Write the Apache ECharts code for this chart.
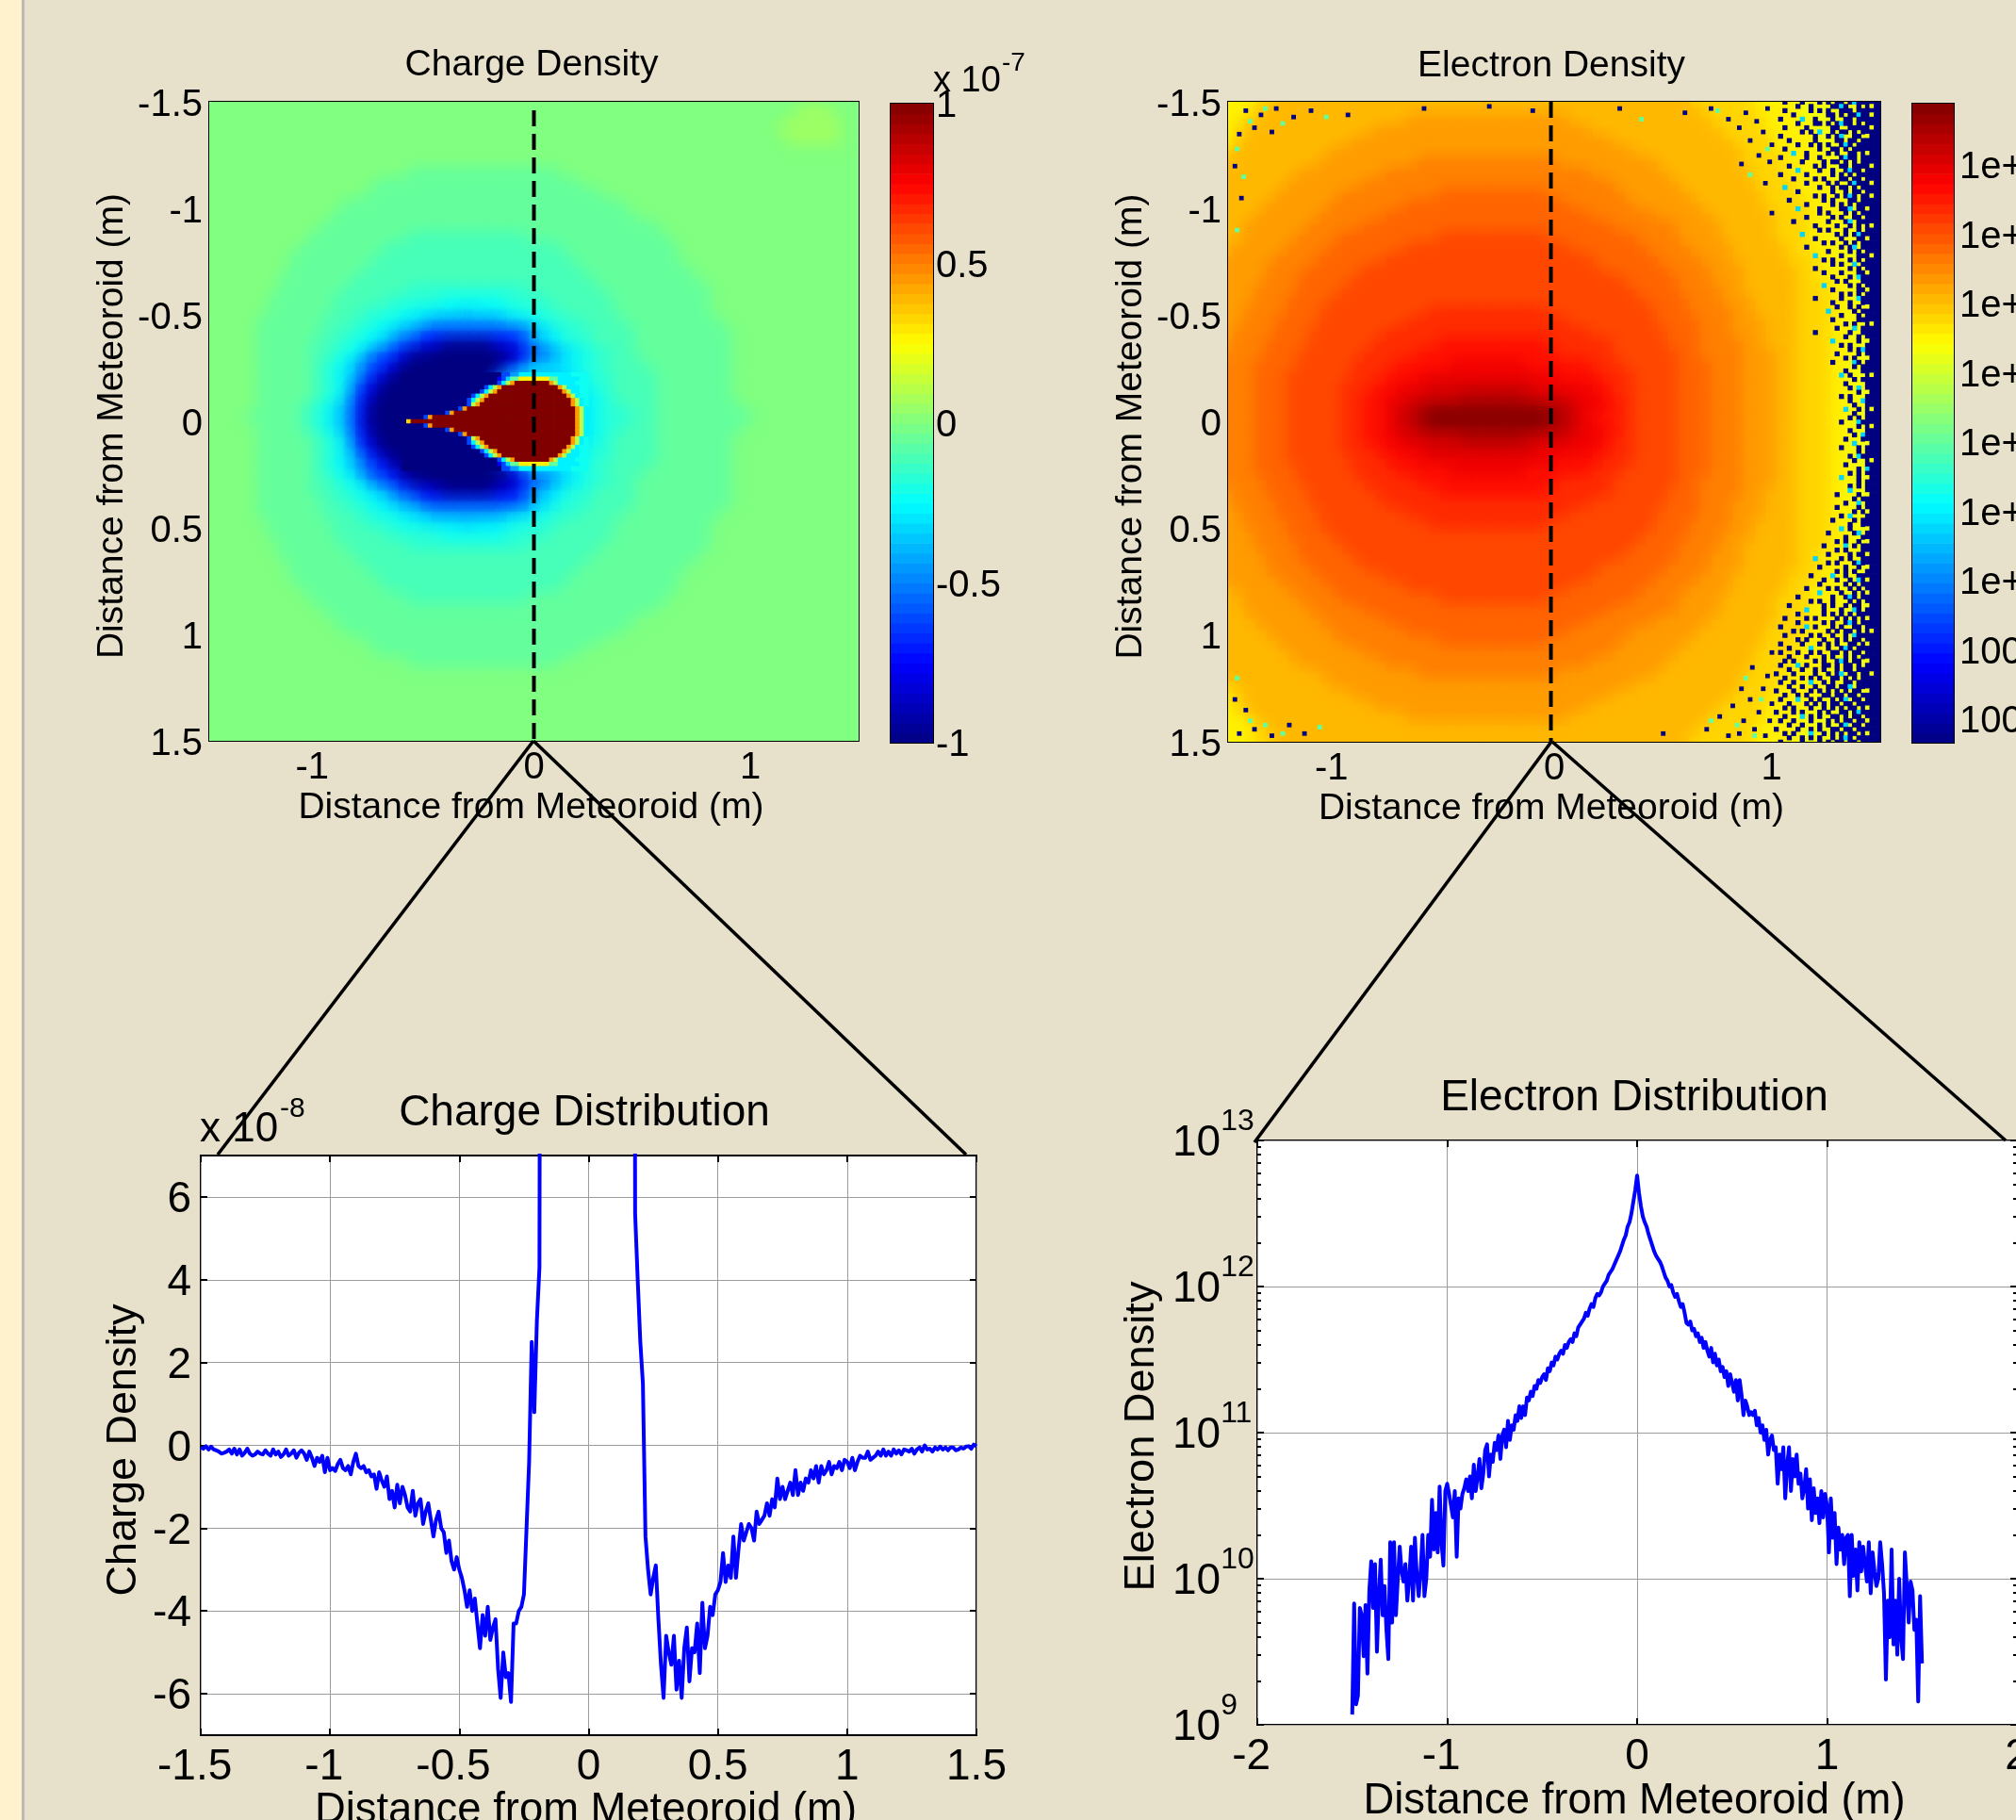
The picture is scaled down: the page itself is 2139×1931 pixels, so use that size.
<!DOCTYPE html>
<html>
<head>
<meta charset="utf-8">
<style>html,body{margin:0;padding:0;background:#E7E1CB}#c{width:2139px;height:1931px}</style>
<script src="https://cdn.jsdelivr.net/npm/echarts@6/dist/echarts.min.js"></script>
</head>
<body>
<div id="c"></div>
<script>
// Levels in 37 colour steps; each row token = level char + run length ('.' = nothing).
const LEVELS = '0123456789abcdefghijklmnopqrstuvwxyzA';

// Charge Density map, y = -1.5 ... 1.5, 61 cells per row (x = -1.5 ... 1.5)
const chargeRows = [
"i61","i55 j3 i3","i54 j5 i2","i53 j6 i2","i54 j5 i2","i61","i61",
"i19 h14 i28","i16 h19 i26","i15 h22 i24","i13 h26 i22","i12 h28 i21","i11 h31 i19",
"i10 h9 g11 h13 i18","i9 h8 g16 h11 i17","i8 h8 g18 h10 i17","i8 h7 g20 h10 i16","i7 h7 g22 h10 i15",
"i7 h6 g6 f11 g7 h10 i14","i6 h6 g5 f5 e6 f4 g6 h9 i14","i6 h6 g3 f3 e2 d4 c1 d3 e2 f3 g5 h9 i14",
"i5 h6 g3 f2 e2 d1 c2 a7 c2 d1 e1 f3 g4 h9 i13","i5 h6 g2 f2 e1 d1 c1 a2 710 a1 c1 d1 f3 g4 h9 i12",
"i5 h5 g2 f2 e1 d1 c1 a1 72 42 15 42 71 a1 c1 d1 e1 f2 g4 h9 i12","i5 h5 g2 f1 e1 d1 a1 72 41 12 06 12 41 72 a1 c1 d1 e1 f2 g2 h9 i12",
"i5 h5 g1 f1 e1 d1 a1 72 41 11 09 41 71 c3 d1 e1 f2 g4 h8 i12",
"i5 h5 g1 f1 e1 c1 a1 71 41 11 09 71 c6 d1 e1 f2 g4 h7 i12",
"i5 h5 g1 f1 e1 c1 71 41 11 09 61 a1 c7 e1 f2 g4 h7 i12",
"i5 h5 g1 f1 e1 b1 61 31 09 81 c9 d1 e1 f1 g4 h7 i12",
"i5 h4 g1 f1 e1 c1 a1 51 11 07 51 c11 d1 e1 f2 g3 h8 i11",
"i4 h5 g1 f1 e1 c1 a1 51 11 03 08 c8 d1 e1 f3 g2 h9 i10",
"i5 h4 g1 f1 e1 c1 a1 51 11 07 51 c11 d1 e1 f2 g3 h8 i11",
"i5 h5 g1 f1 e1 b1 61 31 09 81 c9 d1 e1 f1 g4 h7 i12",
"i5 h5 g1 f1 e1 c1 71 41 11 09 61 a1 c7 e1 f2 g4 h7 i12",
"i5 h5 g1 f1 e1 c1 a1 71 41 11 09 71 c6 d1 e1 f2 g4 h7 i12",
"i5 h5 g1 f1 e1 d1 a1 72 41 11 09 41 71 c3 d1 e1 f2 g4 h8 i12",
"i5 h5 g2 f1 e1 d1 a1 72 41 12 06 12 41 72 a1 c1 d1 e1 f2 g2 h9 i12","i5 h5 g2 f2 e1 d1 c1 a1 72 42 15 42 71 a1 c1 d1 e1 f2 g4 h9 i12",
"i5 h6 g2 f2 e1 d1 c1 a2 710 a1 c1 d1 f3 g4 h9 i12","i5 h6 g3 f2 e2 d1 c2 a7 c2 d1 e1 f3 g4 h9 i13",
"i6 h6 g3 f3 e2 d4 c1 d3 e2 f3 g5 h9 i14","i6 h6 g5 f5 e6 f4 g6 h9 i14","i7 h6 g6 f11 g7 h10 i14",
"i7 h7 g22 h10 i15","i8 h7 g20 h10 i16","i8 h8 g18 h10 i17","i9 h8 g16 h11 i17","i10 h9 g11 h13 i18",
"i11 h31 i19","i12 h28 i21","i13 h26 i22","i15 h22 i24","i16 h19 i26","i19 h14 i28",
"i61","i61","i61","i61","i61","i61","i61"
];

// Positive teardrop of the charge map, finer cells: y = -0.22 ... 0.22, x = -0.6 ... 0.24, step 0.02
const chargeHeadRows = [
"023 72 a2 d12 e4","022 41 71 c1 h2 n7 h2 d5 e2","022 71 d1 k1 q1 A8 q1 k1 d4 e3","019 71 d1 k1 q1 A13 q1 k1 d3 e2",
"018 71 d1 k1 q1 A15 q1 k1 d2 e2","016 71 d1 k1 q1 A18 q1 k1 d1 e2","015 71 d1 k1 q1 A20 q1 k1 d1 e1","015 71 k1 q1 A21 q1 k1 d1 e1",
"013 71 q1 A25 q1 k1 d1","010 71 q1 A28 q1 k1 d1","05 71 q1 A33 q1 k1 d1","01 o1 A38 q1 k1 d1",
"05 71 q1 A33 q1 k1 d1","010 71 q1 A28 q1 k1 d1","013 71 q1 A25 q1 k1 d1","015 71 k1 q1 A21 q1 k1 d1 e1",
"015 71 d1 k1 q1 A20 q1 k1 d1 e1","016 71 d1 k1 q1 A18 q1 k1 d1 e2","018 71 d1 k1 q1 A15 q1 k1 d2 e2","019 71 d1 k1 q1 A13 q1 k1 d3 e2",
"022 71 d1 k1 q1 A8 q1 k1 d4 e3","022 41 71 c1 h2 n7 h2 d5 e2","023 72 a2 d12 e4"
];

// Electron Density map, same layout as the charge map
const electronRows = [
"n3 o2 p38 o6 n4 m8","n3 o1 p40 o5 n4 m8","n2 o1 p14 q15 p13 o5 n4 m7","n1 o1 p12 q20 p12 o4 n4 m7",
"n1 o1 p10 q24 p11 o4 n4 m6","o1 p9 q28 p10 o3 n4 m6","p9 q9 r13 q9 p8 o4 n4 m5","p7 q8 r19 q7 p8 o3 n4 m5",
"p6 q7 r23 q6 p7 o4 n3 m5","p5 q6 r9 s10 r7 q6 p7 o3 n4 m4","p4 q6 r7 s15 r6 q6 p6 o4 n3 m4","p3 q6 r6 s19 r6 q5 p6 o3 n3 m4",
"p2 q6 r5 s23 r6 q4 p5 o3 n3 m4","p2 q5 r4 s9 t10 s8 r4 q4 p5 o3 n3 m4","p1 q5 r4 s7 t15 s7 r4 q4 p5 o2 n3 m4",
"q5 r4 s6 t19 s6 r4 q3 p5 o3 n2 m4","q4 r4 s5 t22 s6 r4 q3 p5 o2 n3 m3","q4 r3 s5 t25 s5 r3 q3 p5 o2 n3 m3",
"q3 r4 s4 t27 s4 r4 q2 p5 o3 n2 m3","q3 r3 s4 t29 s4 r3 q3 p4 o3 n2 m3","q2 r4 s3 t10 u11 t10 s3 r4 q2 p4 o3 n2 m3",
"q2 r3 s4 t8 u15 t8 s4 r3 q3 p3 o3 n2 m3","q1 r4 s3 t7 u19 t7 s3 r3 q3 p3 o3 n2 m3","q1 r3 s4 t6 u6 v10 u6 t5 s3 r4 q2 p3 o3 n2 m3",
"r4 s3 t6 u5 v13 u5 t6 s2 r4 q3 p2 o3 n2 m3","r3 s4 t5 u4 v5 w7 v6 u3 t5 s3 r3 q3 p2 o3 n2 m3",
"r3 s3 t6 u3 v3 w13 v4 u3 t4 s3 r3 q3 p2 o3 n2 m3","r3 s3 t5 u3 v2 w3 x10 w5 v2 u2 t4 s3 r3 q3 p2 o3 n2 m3",
"r3 s3 t5 u2 v2 w2 x5 y6 x4 w3 v1 u2 t4 s3 r3 q3 p2 o3 n2 m3","r3 s3 t5 u2 v2 w1 x2 y1 z11 y2 x1 w2 v2 u1 t4 s3 r3 q3 p2 o3 n2 m3",
"r3 s3 t5 u2 v2 w1 x1 y1 z1 A11 z1 y1 x1 w1 v2 u2 t4 s3 r3 q3 p2 o3 n2 m3",
"r3 s3 t5 u2 v2 w1 x2 y1 z11 y2 x1 w2 v2 u1 t4 s3 r3 q3 p2 o3 n2 m3","r3 s3 t5 u2 v2 w2 x5 y6 x4 w3 v1 u2 t4 s3 r3 q3 p2 o3 n2 m3",
"r3 s3 t5 u3 v2 w3 x10 w5 v2 u2 t4 s3 r3 q3 p2 o3 n2 m3","r3 s3 t6 u3 v3 w13 v4 u3 t4 s3 r3 q3 p2 o3 n2 m3",
"r3 s4 t5 u4 v5 w7 v6 u3 t5 s3 r3 q3 p2 o3 n2 m3","r4 s3 t6 u5 v13 u5 t6 s2 r4 q3 p2 o3 n2 m3",
"q1 r3 s4 t6 u6 v10 u6 t5 s3 r4 q2 p3 o3 n2 m3","q1 r4 s3 t7 u19 t7 s3 r3 q3 p3 o3 n2 m3","q2 r3 s4 t8 u15 t8 s4 r3 q3 p3 o3 n2 m3",
"q2 r4 s3 t10 u11 t10 s3 r4 q2 p4 o3 n2 m3","q3 r3 s4 t29 s4 r3 q3 p4 o3 n2 m3","q3 r4 s4 t27 s4 r4 q2 p5 o3 n2 m3",
"q4 r3 s5 t25 s5 r3 q3 p5 o2 n3 m3","q4 r4 s5 t22 s6 r4 q3 p5 o2 n3 m3","q5 r4 s6 t19 s6 r4 q3 p5 o3 n2 m4",
"p1 q5 r4 s7 t15 s7 r4 q4 p5 o2 n3 m4","p2 q5 r4 s9 t10 s8 r4 q4 p5 o3 n3 m4","p2 q6 r5 s23 r6 q4 p5 o3 n3 m4",
"p3 q6 r6 s19 r6 q5 p6 o3 n3 m4","p4 q6 r7 s15 r6 q6 p6 o4 n3 m4","p5 q6 r9 s10 r7 q6 p7 o3 n4 m4",
"p6 q7 r23 q6 p7 o4 n3 m5","p7 q8 r19 q7 p8 o3 n4 m5","p9 q9 r13 q9 p8 o4 n4 m5","o1 p9 q28 p10 o3 n4 m6",
"n1 o1 p10 q24 p11 o4 n4 m6","n1 o1 p12 q20 p12 o4 n4 m7","n2 o1 p14 q15 p13 o5 n4 m7","n3 o1 p40 o5 n4 m8","n3 o2 p38 o6 n4 m8"
];

// Noisy right rim of the electron map, one char per cell: x = 1.02 ... 1.5, y = -1.5 ... 1.5, step 0.02
// ('.' = nothing, 0 = dark blue, c = cyan, m = yellow); rows end in solid dark blue from x = 1.44
const electronRimRows = `
..0...0...0.0.00.0c00.0
.....0..0....00c0..0.0m
..0.....0.0.0..000.000
....0.......00.0.00c00m
.0....c..0...0..00.00
.....0...00.0.0c00.0.0
..0....0.....00..00000m
......0.0.c..0.00.0.0
.0.......0..0.0c..00.m
...0.....0....00.00.000
.....0..0.0.0..0c0.00
..0.......0..00.0.0000
....c..0....0.0..00.0m
.0.....0..0....0c00.0
......0....0.00.0.0.00
...0.....0.0...00.000.m
.....c....0..0..0c00.0
.0.....0.....0.0.0.00
....0....0.0...00.00.0
.......0....0.0..0c000m
..c.......0..0.00.0.0
.....0.......0..0.00.0
.........0.0..0.0c0.00m
...0.......0.0...00.0
.......0.....0.0.0.000
.....c....0....00c.00m
..........0.0...0.0.0
.......0.....0.0..00.0
....0.......0...0c.00
.........0....0..0.0.0m
..........0.0...0..0.
......c.......0.0.0c0
.........0.....0...00m
...........0.0..0.0.0
.......0.......0.0c.0
............0....0.0.0
.........c.....0...00.m
...........0.0...0.0.
.............0.0..c.0
.........0.......0.0.0
...........0...0...00m
.............0...0.c0
..............0.0...0.
...........c.....0.0.0
.............0.....00m
...............0.0.0.
.........0.....0...c0
.............0...0..0.
..............0..0.0.m
............c.....0.0
...............0...0.0
.............0.....00.
................0.0..0m
..............0...c.0
.........0.......0..0.
................0..0.0
.............c.....0.m
...............0.0...0
.................0.0c.
..............0....0.0
................0.0..m
.............0....c0.
..................0.0.
................0...0.
...............c.0...0m
..................0.0
................0....0
.................0.c.0
...................0.m
...............0.0...
.................0..c0
..................0...
................c..0.0m
..................0..0
.................0.0..
...............0...c0
...................0.0m
.................0....
..................0.c.
................0...0.
..................c..m
...............0...0.0
...................0..
.................0.c0.
..................0..0m
................0....0
...................0.c
.................0.0..
...............c...0.m
...................0..
.................0.0.0
.................c...0
..............0....0.m
..................0.0.
................0..c.0
..............0....0..
..................0.0m
...............0.c...0
.............0....0.0.
.................0..0.
...............c.0...m
............0.....0c.0
................0...0.
..............0.0..0.m
...........0....c.0.0.
..............0.0...0.
............0....0.00m
.........c.....0.0..0.
............0.0...0c0
..........0.....0..0.m
..............0.0.0..0
........0....c..0..00.
...........0..0..0.c0m
..........0.....0.0.00
.......0....0.0..0.0.0
..........c....0..0.0m
.....0.......0..0c0.0.
........0.0..0...0.0.0
...0.......0.0..0.00.m
.......c...0...0..c0.0
.....0.....0.0.0.0.00.
..0....0.0....0.0.0.0m
.....0.....0.0..0c0.00
.0.....c.0...0.0..00.
....0.0.....0.0.00.0.0m
..0.....0.0..0..0.c00.
.....0.0...0..0.0.00.0
.0....0...0.0.0..00.0m
...0....c...0..0c0.00.
.0...0..0.0..00.0.00.0
...0...0...0.0..0.0.00
..0.0....0.0..0c0.00.m
.0...c.0...00.0.00.0.0
...0..0..0.0..0.00.000
0...0....0..0.0c.00.00m
..0...0.0.0..00.0.0.00
.0..0...c..0.0..00.000
...0..0..0..00.00c.00.
0...0...0.0.0.0.0.00.m
..0..0.0...00.00.00.00
.0...c..0.0..0.0c.00.0
...0...0.0.0.00.00.000
..0.0...0..0.0.0.00.0m
0...0.0...0.0..00.0c00
..0...c.0.0..00.0.00.0
.0..0...0...0.0.00.00m
...0..0...0.0..0c.00.0
0....0..0.0..00.00.000
..0.0...c..0.0.0.00.0m
...0..0.0.0..0.0c0.000
.0....0...0.0.00.00.00
`.trim().split('\n');

// Stray dark-blue and cyan cells seen on the edges of the electron map
const electronBlueSpots = [
[-1.42,-1.46],[-1.35,-1.44],[-1.28,-1.47],[-1.2,-1.43],[-1.12,-1.46],[-1.45,-1.35],[-1.38,-1.38],[-1.3,-1.36],[-.95,-1.44],[-1.47,-1.2],[-1.44,-1.05],[-1.45,1.46],[-1.38,1.44],[-1.3,1.47],[-1.22,1.42],[-1.47,1.3],[-1.42,1.35],[-1.15,1.46],[-.6,-1.47],[-.3,-1.48],[-.1,-1.46],[.3,-1.47],[.6,-1.45],
[.72,-1.47],[.8,-1.42],[.85,-1.38],[.88,-1.45],[.9,-1.32],[.93,-1.41],[.96,-1.36],[.98,-1.47],[1.0,-1.3],[.94,-1.25],[.99,-1.22],[.97,-1.12],[.86,-1.21],[1.0,-.98],
[.5,1.46],[.7,1.44],[.82,1.33],[.85,1.46],[.87,1.4],[.9,1.3],[.92,1.44],[.94,1.36],[.96,1.25],[.97,1.47],[.99,1.4],[1.0,1.32],[.98,1.19],[.86,1.25],[.76,1.38],[.8,1.47],[.91,1.15],[1.0,1.08]
];
const electronCyanSpots = [
[-1.4,-1.41],[-1.33,-1.47],[-1.25,-1.4],[-1.05,-1.43],[-1.46,-1.28],[-1.43,-1.15],[-1.46,-.9],[-1.4,1.4],[-1.33,1.42],[-1.25,1.46],[-1.46,1.2],[-1.08,1.43],[.4,-1.42],[.75,-1.46],[.98,-1.28],[.9,-1.16],[.72,1.4],[.84,1.42],[.92,1.47],[.95,1.3],[.88,1.2]
];

const chargeBarTicks = [-1,-0.5,0,0.5,1];
const electronBarTicks = [4,5,6,7,8,9,10,11,12];
const electronBarLabels = ["100","100","1e+","1e+","1e+","1e+","1e+","1e+","1e+"];
const mapTicksX = [-1,0,1];
const mapTicksY = [-1.5,-1,-0.5,0,0.5,1,1.5];

// Charge Distribution, x = -1.5 ... 1.5 every 0.01, unit 1e-8; 40 = far off the top of the plot
const chargeLine = [
-.05,-.08,-.02,-.1,-.03,-.1,-.12,-.15,-.2,-.18,
-.15,-.1,-.2,-.08,-.22,-.1,-.25,-.18,-.08,-.2,
-.25,-.22,-.15,-.2,-.22,-.12,-.2,-.25,-.1,-.22,
-.15,-.28,-.22,-.1,-.25,-.2,-.12,-.3,-.18,-.12,
-.2,-.35,-.15,-.3,-.5,-.3,-.4,-.25,-.65,-.3,
-.6,-.55,-.62,-.45,-.35,-.55,-.6,-.5,-.7,-.4,
-.2,-.5,-.55,-.5,-.65,-.6,-.75,-.7,-1.05,-.65,
-.85,-1.0,-.75,-1.3,-1.1,-1.5,-.95,-1.4,-1.0,-1.2,
-1.5,-1.6,-1.1,-1.7,-1.4,-1.3,-1.9,-1.6,-1.4,-1.8,
-2.2,-1.8,-1.6,-2.0,-2.1,-2.6,-2.3,-2.8,-3.0,-2.7,
-3.0,-3.2,-3.5,-3.9,-3.5,-4.0,-3.7,-4.3,-4.9,-4.1,
-4.6,-3.9,-4.7,-4.4,-4.2,-5.4,-6.1,-5.0,-5.6,-5.5,
-6.2,-4.3,-4.3,-4.0,-3.9,-3.6,-2.0,-.4,2.5,.8,
3.0,4.3,40,40,40,40,40,40,40,40,
40,40,40,40,40,40,40,40,40,40,
40,40,40,40,40,40,40,40,40,40,
40,40,40,40,40,40,40,40,5.6,4.0,
2.5,1.5,-2.2,-3.0,-3.6,-3.2,-2.9,-4.2,-5.3,-6.1,
-4.6,-5.0,-5.3,-4.6,-5.9,-5.2,-6.1,-4.9,-4.4,-5.7,
-4.9,-5.0,-4.3,-5.5,-3.8,-4.9,-4.6,-3.9,-4.1,-3.6,
-3.5,-3.3,-2.6,-3.3,-2.9,-3.2,-2.2,-3.2,-2.5,-1.9,
-2.3,-2.1,-1.9,-2.0,-2.3,-1.6,-1.9,-1.8,-1.7,-1.4,
-1.7,-1.3,-1.5,-.8,-1.3,-1.0,-1.3,-1.1,-.9,-1.2,
-.6,-1.2,-.9,-1.1,-.8,-.9,-.6,-.8,-.5,-.9,
-.5,-.7,-.6,-.4,-.7,-.5,-.55,-.4,-.6,-.35,
-.4,-.55,-.3,-.6,-.4,-.25,-.3,-.3,-.15,-.35,
-.3,-.25,-.15,-.25,-.1,-.25,-.15,-.25,-.1,-.2,
-.12,-.22,-.1,-.12,-.15,-.08,-.2,-.1,-.05,-.15,
0,-.1,-.08,-.15,-.05,-.1,-.03,-.1,-.05,-.12,
-.05,-.05,-.12,-.1,-.05,-.08,-.03,-.02,-.08,.02,
-.02
];

// Electron Distribution, x = -1.5 ... 1.5 every 0.01, as log10 of the density
const electronLine = [
9.07,9.83,9.14,9.2,9.8,9.75,9.47,9.82,9.35,9.92,
10.12,9.8,10.1,9.5,9.88,10.13,9.75,9.95,9.65,9.45,
10.25,9.7,10.25,9.75,10.0,10.22,10.05,9.98,10.1,9.85,
10.0,10.22,9.85,10.28,10.02,9.88,10.05,10.3,9.88,10.0,
10.3,10.15,10.54,10.2,10.45,10.18,10.63,10.25,10.09,10.6,
10.65,10.58,10.5,10.42,10.6,10.15,10.55,10.48,10.58,10.62,
10.68,10.6,10.7,10.55,10.78,10.6,10.7,10.82,10.62,10.72,
10.88,10.92,10.7,10.85,10.8,10.93,10.88,10.98,10.82,10.98,
11.02,10.9,11.08,10.95,11.05,11.02,11.12,11.08,11.18,11.1,
11.18,11.12,11.24,11.22,11.28,11.25,11.32,11.3,11.36,11.34,
11.38,11.4,11.36,11.44,11.42,11.48,11.46,11.52,11.5,11.54,
11.56,11.54,11.6,11.58,11.62,11.64,11.62,11.68,11.66,11.72,
11.74,11.76,11.78,11.82,11.8,11.85,11.88,11.86,11.92,11.95,
11.94,11.96,12.0,12.02,12.04,12.08,12.1,12.12,12.15,12.18,
12.21,12.24,12.28,12.32,12.35,12.41,12.44,12.5,12.58,12.66,
12.76,
12.64,12.55,12.48,12.44,12.41,12.36,12.32,12.28,12.24,12.21,
12.19,12.17,12.14,12.1,12.06,12.04,12.0,12.01,11.96,11.93,
11.95,11.9,11.86,11.88,11.82,11.75,11.74,11.76,11.7,11.71,
11.66,11.68,11.62,11.65,11.58,11.62,11.56,11.52,11.58,11.48,
11.54,11.46,11.5,11.42,11.45,11.38,11.42,11.32,11.4,11.34,
11.28,11.36,11.22,11.36,11.26,11.12,11.22,11.18,11.12,11.14,
11.12,11.15,11.05,11.1,11.0,11.05,10.95,11.02,10.85,10.95,
10.98,10.88,10.9,10.65,10.85,10.75,10.9,10.55,10.78,10.9,
10.6,10.82,10.7,10.85,10.65,10.72,10.55,10.62,10.75,10.48,
10.68,10.4,10.62,10.45,10.55,10.38,10.6,10.42,10.58,10.5,
10.18,10.55,10.28,10.45,10.1,10.35,10.2,10.3,10.1,10.28,
10.3,9.88,10.3,10.02,10.2,9.92,10.25,10.05,10.22,10.1,
9.98,10.25,9.9,10.18,10.05,9.95,10.0,10.25,10.1,9.9,
9.31,9.85,9.6,10.2,9.55,9.85,9.48,10.0,9.6,9.45,
10.18,9.95,9.7,9.98,9.92,9.65,9.72,9.16,9.88,9.42
];
const decadeMinor = [.301,.477,.602,.699,.778,.845,.903,.954];

const FONT = '"Liberation Sans", Arial, sans-serif';
const JET = ['#000080','#0000ff','#0080ff','#00ffff','#80ff80','#ffff00','#ff8000','#ff0000','#800000'];
const CHARGE_RANGE = [-1, 1];
const ELECTRON_RANGE = [3.66, 12.89];
const RIM_SOLID_FROM = 21;

function decodeMap(rows, range, x0, y0, step) {
  const out = [];
  rows.forEach((row, j) => {
    let i = 0;
    row.split(' ').forEach(tok => {
      const lv = LEVELS.indexOf(tok[0]);
      const n = parseInt(tok.slice(1), 10);
      for (let k = 0; k < n; k++, i++) {
        if (lv >= 0) out.push([x0 + i * step, y0 + j * step, range[0] + lv / 36 * (range[1] - range[0])]);
      }
    });
  });
  return out;
}
function decodeRim(rows, range, x0, y0, step, cols) {
  const out = [];
  rows.forEach((row, j) => {
    for (let i = 0; i < cols; i++) {
      let ch = i < row.length ? row[i] : '0';
      if (ch === '.' && i >= RIM_SOLID_FROM) ch = '0';
      if (ch !== '.') out.push([x0 + i * step, y0 + j * step, range[0] + LEVELS.indexOf(ch) / 36 * (range[1] - range[0])]);
    }
  });
  return out;
}
function barCells(range) {
  const out = [], h = (range[1] - range[0]) / 64;
  for (let i = 0; i < 64; i++) out.push([0.5, range[0] + (i + .5) * h, range[0] + (i + .5) * h]);
  return out;
}
const cell = (w, h) => (p, api) => {
  const c = api.coord([api.value(0), api.value(1)]);
  const s = api.size([w, h]);
  return { type: 'rect', shape: { x: c[0] - s[0] / 2, y: c[1] - s[1] / 2, width: s[0] + .7, height: s[1] + .7 }, style: { fill: api.visual('color') } };
};
// Soft round sprite per cell, so neighbouring map cells melt into each other as they do in the picture's fine grid
const softCell = (w, rScale, alpha) => (p, api) => {
  const c = api.coord([api.value(0), api.value(1)]);
  const s = api.size([w, w]);
  const col = api.visual('color');
  return { type: 'circle', shape: { cx: c[0], cy: c[1], r: s[0] * rScale }, style: {
    fill: new echarts.graphic.RadialGradient(.5, .5, .5, [
      { offset: 0, color: echarts.color.modifyAlpha(col, alpha) },
      { offset: .55, color: echarts.color.modifyAlpha(col, alpha * .6) },
      { offset: 1, color: echarts.color.modifyAlpha(col, 0) }
    ]) } };
};
const baseSeries = (gi, data, render) => ({
  type: 'custom', coordinateSystem: 'cartesian2d', xAxisIndex: gi.x, yAxisIndex: gi.y, data, clip: true, silent: true,
  dimensions: ['x', 'y', 'v'], encode: { x: 0, y: 1 }, renderItem: render, progressive: 0, animation: false
});
const cellSeries = (gi, data, w, h) => baseSeries(gi, data, cell(w, h));

const xAxis = [], yAxis = [];
function axis(list, grid, min, max, pos, o) {
  o = o || {};
  const a = {
    type: 'value', gridIndex: grid, min, max, position: pos, inverse: !!o.inverse, scale: true,
    axisLine: { show: false, onZero: false },
    splitLine: { show: !!o.grid, lineStyle: { color: '#9c9c9c', width: 1 } },
    axisTick: { show: !!o.ticks, inside: true, length: o.len || 7, lineStyle: { color: '#000', width: 2 } },
    axisLabel: { show: !!o.labels, fontFamily: FONT, fontSize: o.size || 40, color: '#000', margin: o.margin == null ? 8 : o.margin, hideOverlap: false, showMinLabel: true, showMaxLabel: true },
    axisPointer: { show: false }
  };
  if (o.ticks) a.axisTick.customValues = o.ticks;
  if (o.labels) a.axisLabel.customValues = o.labels;
  if (o.formatter) a.axisLabel.formatter = o.formatter;
  if (o.rich) a.axisLabel.rich = o.rich;
  if (o.align) a.axisLabel.align = o.align;
  if (o.name) {
    a.name = o.name; a.nameLocation = 'middle'; a.nameGap = o.gap;
    a.nameTextStyle = { fontFamily: FONT, fontSize: o.nameSize || o.size || 40, color: '#000' };
    if (o.namePad) a.nameTextStyle.padding = o.namePad;
  }
  list.push(a);
  return list.length - 1;
}
const negShift = v => (v < 0 ? v + ' ' : String(v));
const lowered = fn => v => '{l|' + (fn ? fn(v) : v) + '}';
const lowRich = (size, pad) => ({ l: { fontFamily: FONT, fontSize: size, color: '#000', padding: [pad, 0, 0, 0] } });
const frame = { show: true, borderColor: '#000', borderWidth: 2, backgroundColor: 'transparent', outerBoundsMode: 'none' };
const grid = [
  { left: 222, top: 108, width: 689, height: 678, ...frame },
  { left: 945, top: 110, width: 45, height: 678, ...frame },
  { left: 1303, top: 108, width: 692, height: 679, ...frame },
  { left: 2029, top: 110, width: 44, height: 678, ...frame },
  { left: 213, top: 1226, width: 823, height: 615, ...frame, backgroundColor: '#fff' },
  { left: 1334, top: 1210, width: 806, height: 620, ...frame, backgroundColor: '#fff' }
];
const XNAME = 'Distance from Meteoroid (m)';

// Charge Density map axes
const x0 = axis(xAxis, 0, -1.5, 1.5, 'bottom', { ticks: mapTicksX, labels: mapTicksX, name: XNAME, gap: 52, nameSize: 39, namePad: [0, 6, 0, 0], margin: 9, formatter: negShift });
axis(xAxis, 0, -1.5, 1.5, 'top', { ticks: mapTicksX });
const y0 = axis(yAxis, 0, -1.5, 1.5, 'left', { inverse: true, ticks: mapTicksY, labels: mapTicksY, name: XNAME, gap: 83, nameSize: 39, namePad: [0, 10, 0, 0], margin: 7, formatter: lowered(), rich: lowRich(40, 7) });
axis(yAxis, 0, -1.5, 1.5, 'right', { inverse: true, ticks: mapTicksY });
// Charge colour bar axes
const x1 = axis(xAxis, 1, 0, 1, 'bottom');
const y1 = axis(yAxis, 1, CHARGE_RANGE[0], CHARGE_RANGE[1], 'right', { ticks: chargeBarTicks, labels: chargeBarTicks, margin: 3, formatter: lowered(), rich: lowRich(40, 6) });
axis(yAxis, 1, CHARGE_RANGE[0], CHARGE_RANGE[1], 'left', { ticks: chargeBarTicks });
// Electron Density map axes
const x2 = axis(xAxis, 2, -1.5, 1.5, 'bottom', { ticks: mapTicksX, labels: mapTicksX, name: XNAME, gap: 52, nameSize: 39, namePad: [0, 6, 0, 0], margin: 9, formatter: negShift });
axis(xAxis, 2, -1.5, 1.5, 'top', { ticks: mapTicksX });
const y2 = axis(yAxis, 2, -1.5, 1.5, 'left', { inverse: true, ticks: mapTicksY, labels: mapTicksY, name: XNAME, gap: 83, nameSize: 39, namePad: [0, 10, 0, 0], margin: 7, formatter: lowered(), rich: lowRich(40, 7) });
axis(yAxis, 2, -1.5, 1.5, 'right', { inverse: true, ticks: mapTicksY });
// Electron colour bar axes
const x3 = axis(xAxis, 3, 0, 1, 'bottom');
const y3 = axis(yAxis, 3, ELECTRON_RANGE[0], ELECTRON_RANGE[1], 'right', {
  ticks: electronBarTicks, labels: electronBarTicks, margin: 6, rich: lowRich(40, 6),
  formatter: lowered(v => electronBarLabels[electronBarTicks.indexOf(v)])
});
axis(yAxis, 3, ELECTRON_RANGE[0], ELECTRON_RANGE[1], 'left', { ticks: electronBarTicks });
// Charge Distribution axes
const chargeXTicks = [-1.5,-1,-0.5,0,0.5,1,1.5];
const chargeYTicks = [-6,-4,-2,0,2,4,6];
const x4 = axis(xAxis, 4, -1.5, 1.5, 'bottom', { ticks: chargeXTicks, labels: chargeXTicks, grid: true, name: XNAME, gap: 58, size: 46, nameSize: 45.4, namePad: [0, 6, 0, 0], margin: 11, formatter: negShift });
axis(xAxis, 4, -1.5, 1.5, 'top', { ticks: chargeXTicks });
const y4 = axis(yAxis, 4, -7, 7, 'left', { ticks: chargeYTicks, labels: chargeYTicks, grid: true, name: 'Charge Density', gap: 59, size: 46, nameSize: 45, namePad: [0, 10, 0, 0], margin: 10, formatter: lowered(), rich: lowRich(46, 7) });
axis(yAxis, 4, -7, 7, 'right', { ticks: chargeYTicks });
// Electron Distribution axes
const elecXTicks = [-2,-1,0,1,2];
const elecYTicks = [9,10,11,12,13];
const elecYMinor = [];
[9,10,11,12].forEach(d => decadeMinor.forEach(m => elecYMinor.push(d + m)));
const x5 = axis(xAxis, 5, -2, 2, 'bottom', { ticks: elecXTicks, labels: elecXTicks, grid: true, name: XNAME, gap: 59, size: 46, nameSize: 45.4, namePad: [0, 6, 0, 0], margin: 11, formatter: negShift });
axis(xAxis, 5, -2, 2, 'top', { ticks: elecXTicks });
const y5 = axis(yAxis, 5, 9, 13, 'left', {
  ticks: elecYTicks, labels: elecYTicks, grid: true, name: 'Electron Density', gap: 100, size: 46, nameSize: 45.2, namePad: [0, 8, 0, 0], margin: 90, align: 'left',
  formatter: v => '{b|10}{s|' + v + '}',
  rich: { b: { fontFamily: FONT, fontSize: 46, color: '#000', padding: [6, 0, 0, 0] }, s: { fontFamily: FONT, fontSize: 32, color: '#000', padding: [0, 0, 40, 0] } }
});
axis(yAxis, 5, 9, 13, 'left', { ticks: elecYMinor, len: 4 });
axis(yAxis, 5, 9, 13, 'right', { ticks: elecYTicks });
axis(yAxis, 5, 9, 13, 'right', { ticks: elecYMinor, len: 4 });

const xs = arr => arr.map((v, i) => [-1.5 + i * 0.01, v]);
const dash = (xi, yi, x, y0v) => ({
  type: 'line', xAxisIndex: xi, yAxisIndex: yi, data: [[x, y0v], [x, 1.5]], symbol: 'none', silent: true, animation: false, z: 5,
  lineStyle: { color: '#000', width: 4, type: [17, 8] }
});
const blue = (xi, yi, data) => ({
  type: 'line', xAxisIndex: xi, yAxisIndex: yi, data, symbol: 'none', silent: true, animation: false, z: 5,
  lineStyle: { color: '#0000ff', width: 4, join: 'round' }
});
const spots = (list, level) => list.map(p => [p[0], p[1], level]);
const chargeCells = decodeMap(chargeRows, CHARGE_RANGE, -1.5, -1.5, .05);
const electronCells = decodeMap(electronRows, ELECTRON_RANGE, -1.5, -1.5, .05);
const series = [
  cellSeries({ x: x0, y: y0 }, chargeCells, .05, .05),
  baseSeries({ x: x0, y: y0 }, chargeCells, softCell(.05, 1.9, .4)),
  cellSeries({ x: x1, y: y1 }, barCells(CHARGE_RANGE), 1, 2 / 64),
  cellSeries({ x: x0, y: y0 }, decodeMap(chargeHeadRows, CHARGE_RANGE, -.6, -.22, .02), .02, .02),
  dash(x0, y0, 0, -1.46),
  cellSeries({ x: x2, y: y2 }, electronCells, .05, .05),
  baseSeries({ x: x2, y: y2 }, electronCells, softCell(.05, 1.9, .4)),
  cellSeries({ x: x3, y: y3 }, barCells(ELECTRON_RANGE), 1, (ELECTRON_RANGE[1] - ELECTRON_RANGE[0]) / 64),
  cellSeries({ x: x2, y: y2 }, decodeRim(electronRimRows, ELECTRON_RANGE, 1.02, -1.5, .02, 25), .02, .02),
  cellSeries({ x: x2, y: y2 }, spots(electronBlueSpots, ELECTRON_RANGE[0]), .018, .018),
  cellSeries({ x: x2, y: y2 }, spots(electronCyanSpots, 8.0), .018, .018),
  dash(x2, y2, -.015, -1.5),
  blue(x4, y4, xs(chargeLine)),
  blue(x5, y5, xs(electronLine))
];
const vm = (min, max, idx) => ({ type: 'continuous', show: false, min, max, dimension: 2, seriesIndex: idx, inRange: { color: JET } });

const title = (text, cx, cy, size) => ({ text, left: cx - 5, top: cy - size * .6, textAlign: 'center', textStyle: { fontFamily: FONT, fontSize: size, fontWeight: 'normal', color: '#000' } });
const label = (text, x, y, size) => ({ type: 'text', x, y, z: 50, style: { text, fontFamily: FONT, fontSize: size, fill: '#000', verticalAlign: 'middle', align: 'left' } });
const seg = (a, b, c, d) => ({ type: 'line', z: 60, silent: true, shape: { x1: a, y1: b, x2: c, y2: d }, style: { stroke: '#000', lineWidth: 3.6 } });

const option = {
  backgroundColor: '#E7E1CB',
  animation: false,
  title: [
    title('Charge Density', 564, 68, 39),
    title('Electron Density', 1646, 69, 39),
    title('Charge Distribution', 620, 1181, 46),
    title('Electron Distribution', 1734, 1165, 46)
  ],
  grid, xAxis, yAxis, series,
  visualMap: [vm(CHARGE_RANGE[0], CHARGE_RANGE[1], [0, 1, 2, 3]), vm(ELECTRON_RANGE[0], ELECTRON_RANGE[1], [5, 6, 7, 8, 9, 10])],
  graphic: [
    { type: 'rect', z: 1, silent: true, shape: { x: 0, y: 0, width: 23, height: 1931 }, style: { fill: '#FFF2CC' } },
    { type: 'rect', z: 1, silent: true, shape: { x: 23, y: 0, width: 3, height: 1931 }, style: { fill: '#BDB9B5' } },
    label('x 10', 990, 87, 38), label('-7', 1063, 67, 28),
    label('x 10', 212, 1199, 44), label('-8', 297, 1177, 30),
    seg(566, 786, 231, 1225), seg(566, 786, 1025, 1225),
    seg(1646, 787, 1331, 1212), seg(1647, 787, 2128, 1210)
  ]
};
echarts.init(document.getElementById('c'), null, { renderer: 'canvas' }).setOption(option);
</script>
</body>
</html>
